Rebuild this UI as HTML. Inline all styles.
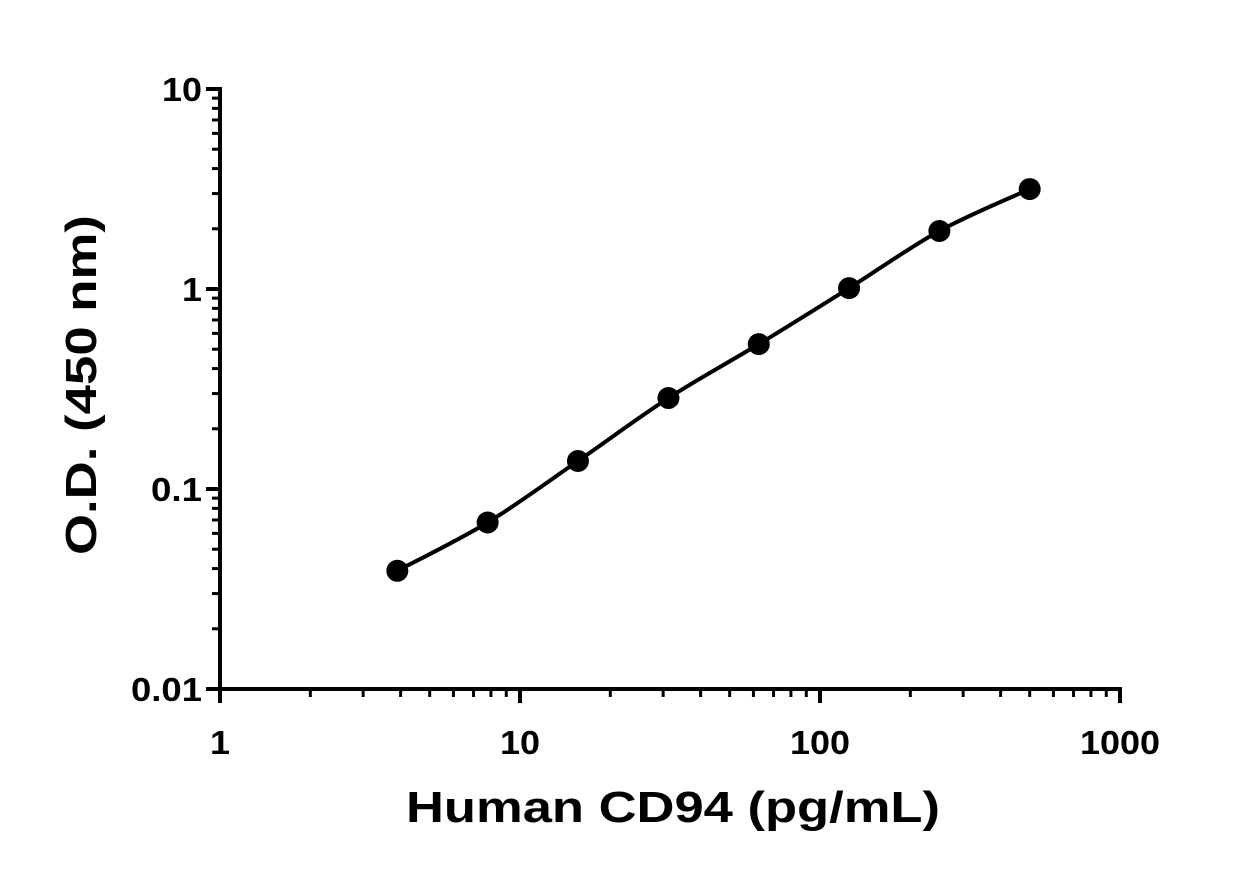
<!DOCTYPE html>
<html><head><meta charset="utf-8"><style>
html,body{margin:0;padding:0;background:#fff;}
svg{display:block;font-family:"Liberation Sans",Arial,sans-serif;font-weight:bold;}
</style></head><body>
<svg id="chart" width="1245" height="873" viewBox="0 0 1245 873">
<g id="axes"></g>
<g id="series"></g>
<text x="406" y="822" font-size="44" textLength="534" lengthAdjust="spacingAndGlyphs">Human CD94 (pg/mL)</text>
<text transform="translate(96,555) rotate(-90)" font-size="44" textLength="340" lengthAdjust="spacingAndGlyphs">O.D. (450 nm)</text>
</svg>
<script>
const concentrations=[3.9,7.8,15.6,31.25,62.5,125,250,500];
const odValues=[0.039,0.068,0.138,0.285,0.53,1.01,1.95,3.16];
const xTickLabels=["1","10","100","1000"];
const yTickLabels=["0.01","0.1","1","10"];
const NS="http://www.w3.org/2000/svg";
const X0=220,XD=300,Y0=689,YD=200;
function xs(v){return X0+Math.log10(v)*XD;}
function ys(v){return Y0-(Math.log10(v)+2)*YD;}
function mk(t,a,p){const e=document.createElementNS(NS,t);for(const k in a)e.setAttribute(k,a[k]);p.appendChild(e);return e;}
const ax=document.getElementById('axes');
let l=mk('line',{x1:X0,y1:ys(10)-2,x2:X0,y2:Y0+2,stroke:'#000','stroke-width':4},ax);

l=mk('line',{x1:X0-2,y1:Y0,x2:xs(1000)+2,y2:Y0,stroke:'#000','stroke-width':4},ax);

for(let d=0;d<3;d++){for(let m=1;m<=10;m++){if(m==1&&d>0)continue;
 const v=Math.pow(10,d)*m;const maj=(m==1||m==10);
 const x=xs(v);
 const t=mk('line',{x1:x,y1:Y0,x2:x,y2:Y0+(maj?14:8),stroke:'#000','stroke-width':maj?4:3},ax);
 
 const yv=Math.pow(10,d-2)*m;const y=ys(yv);
 const u=mk('line',{x1:X0,y1:y,x2:X0-(maj?14:8),y2:y,stroke:'#000','stroke-width':maj?4:3},ax);
 
}}
xTickLabels.forEach((s,i)=>{const t=mk('text',{x:xs(Math.pow(10,i)),y:Y0+65,'font-size':33,'text-anchor':'middle',textLength:s.length*20,lengthAdjust:'spacingAndGlyphs'},ax);t.textContent=s;
 });
yTickLabels.forEach((s,i)=>{const w=s.length*20-(s.indexOf('.')>=0?9:0);const t=mk('text',{x:X0-18-w,y:ys(Math.pow(10,i-2))+12,'font-size':33,textLength:w,lengthAdjust:'spacingAndGlyphs'},ax);t.textContent=s;
 });
const sg=document.getElementById('series');
const P=concentrations.map((c,i)=>[xs(c),ys(odValues[i])]);
let d='M'+P[0][0]+','+P[0][1];
for(let i=0;i<P.length-1;i++){const p0=P[Math.max(0,i-1)],p1=P[i],p2=P[i+1],p3=P[Math.min(P.length-1,i+2)];
 d+=` C${p1[0]+(p2[0]-p0[0])/6},${p1[1]+(p2[1]-p0[1])/6} ${p2[0]-(p3[0]-p1[0])/6},${p2[1]-(p3[1]-p1[1])/6} ${p2[0]},${p2[1]}`;}
const path=mk('path',{d:d,fill:'none',stroke:'#000','stroke-width':4},sg);

P.forEach(p=>{const c=mk('circle',{cx:p[0],cy:p[1],r:11,fill:'#000'},sg);
 });
</script>
</body></html>
